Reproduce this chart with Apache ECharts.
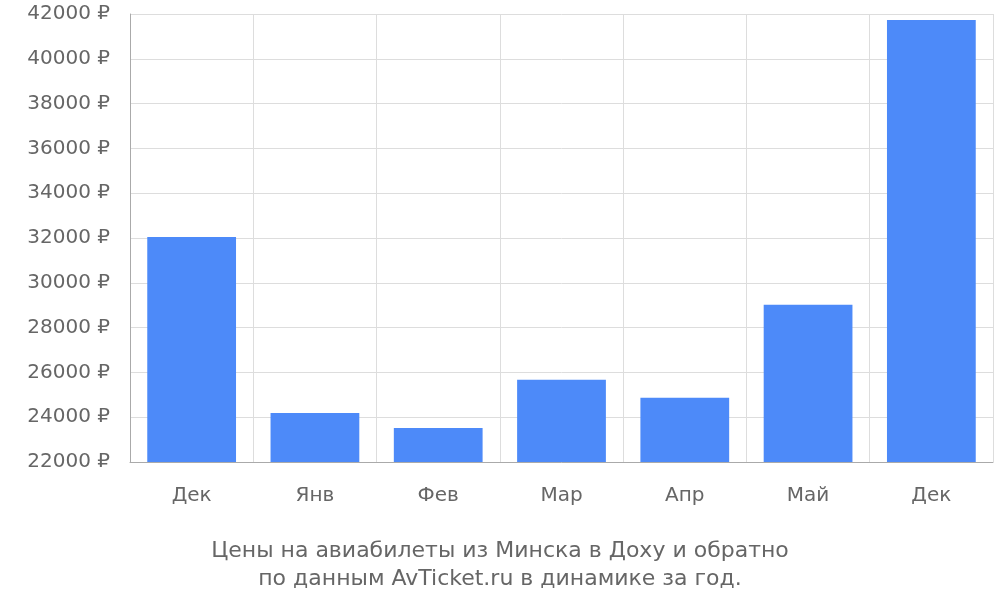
<!DOCTYPE html>
<html><head><meta charset="utf-8">
<script src="https://cdn.jsdelivr.net/npm/echarts@6/dist/echarts.min.js"></script>
<style>html,body{margin:0;padding:0;background:#fff}#c{width:1000px;height:600px}</style>
</head><body><div id="c"></div>
<script>
const categories = ['Дек','Янв','Фев','Мар','Апр','Май','Дек'];
const prices = [32040, 24190, 23520, 25670, 24870, 29020, 41730];
const titleLines = ['Цены на авиабилеты из Минска в Доху и обратно','по данным AvTicket.ru в динамике за год.'];
const chart = echarts.init(document.getElementById('c'));
chart.setOption({
  animation:false,
  textStyle:{fontFamily:'DejaVu Sans'},
  title:{text:titleLines.join('\n'),left:'center',top:532,
    textStyle:{fontSize:22,fontWeight:'normal',color:'#666',lineHeight:28,fontFamily:'DejaVu Sans'}},
  grid:{left:130,right:7,top:14,bottom:138},
  xAxis:{type:'category',data:categories,
    axisLine:{lineStyle:{color:'#aaa'}},
    axisTick:{length:18,lineStyle:{color:'#ccc'}},
    axisLabel:{fontSize:20,color:'#666',margin:24},
    splitLine:{show:true,lineStyle:{color:'#ddd'}}},
  yAxis:{type:'value',min:22000,max:42000,interval:2000,
    axisLine:{show:true,lineStyle:{color:'#aaa'}},
    axisTick:{show:false},
    axisLabel:{fontSize:20,color:'#666',margin:20,formatter:v=>v+' ₽'},
    splitLine:{lineStyle:{color:'#ddd'}}},
  series:[{type:'bar',data:prices,barWidth:'72%',itemStyle:{color:'#4d8af9'}}]
});
</script></body></html>
